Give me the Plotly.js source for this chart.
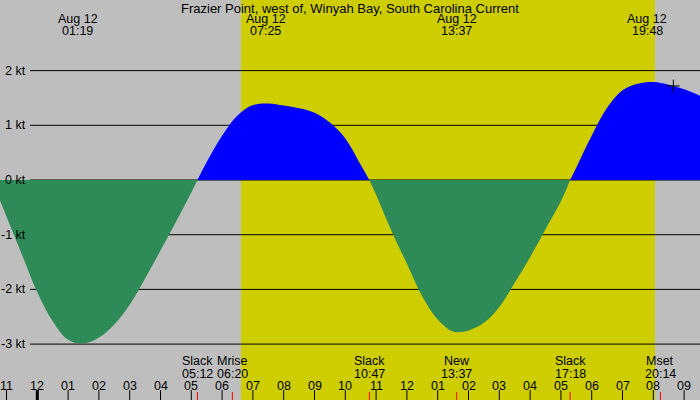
<!DOCTYPE html>
<html>
<head>
<meta charset="utf-8">
<script src="https://cdn.plot.ly/plotly-3.0.1.min.js"></script>
<style>
  html, body { margin: 0; padding: 0; background: #bebebe; }
  #chart { width: 700px; height: 400px; }
</style>
</head>
<body>
<div id="chart"></div>
<script>
// time in hours after midnight Aug 12 (negative = evening of Aug 11), current in knots
var hours = [-1.48, -1.0, -0.5, 0.0, 0.5, 1.0, 1.5, 2.0, 2.5, 3.0, 3.5, 4.0, 4.5, 5.0, 5.2,
  5.5, 6.0, 6.5, 7.0, 7.5, 8.0, 8.5, 9.0, 9.5, 10.0, 10.5, 10.78,
  11.0, 11.5, 12.0, 12.5, 13.0, 13.5, 14.0, 14.5, 15.0, 15.5, 16.0, 16.5, 17.0, 17.3,
  17.5, 18.0, 18.5, 19.0, 19.5, 20.0, 20.5, 21.0, 21.52];
var knots = [0, -0.67, -1.36, -2.05, -2.58, -2.92, -2.99, -2.88, -2.64, -2.28, -1.80, -1.29, -0.77, -0.23, 0,
  0.33, 0.81, 1.18, 1.37, 1.40, 1.36, 1.31, 1.23, 1.05, 0.76, 0.28, 0,
  -0.27, -0.93, -1.53, -2.13, -2.55, -2.77, -2.75, -2.61, -2.32, -1.88, -1.41, -0.90, -0.39, 0,
  0.23, 0.81, 1.32, 1.64, 1.76, 1.79, 1.74, 1.66, 1.54];

// max flood / max ebb labels along the top
var peakTimes = [1.317, 7.417, 13.617, 19.8];
var peakLabels = ['01:19', '07:25', '13:37', '19:48'];
var peakDate = 'Aug 12';

// slack, moon events along the bottom
var eventTimes = [-1.5, 5.2, 6.333, 10.783, 13.617, 17.3, 20.233];
var eventNames = ['Slack', 'Slack', 'Mrise', 'Slack', 'New', 'Slack', 'Mset'];
var eventLabels = ['22:30', '05:12', '06:20', '10:47', '13:37', '17:18', '20:14'];

var sunrise = 6.614, sunset = 20.054;
var nowTime = 20.65, nowKnots = 1.72;

var hourTicks = [-1, 0, 1, 2, 3, 4, 5, 6, 7, 8, 9, 10, 11, 12, 13, 14, 15, 16, 17, 18, 19, 20, 21];
var hourLabels = ['11', '12', '01', '02', '03', '04', '05', '06', '07', '08', '09', '10',
  '11', '12', '01', '02', '03', '04', '05', '06', '07', '08', '09'];
var ktTicks = [2, 1, 0, -1, -2, -3];

var W = 700, H = 400;

// split the curve into flood / ebb phases at each slack
var phases = [];
var cur = {x: [], y: []};
for (var i = 0; i < hours.length; i++) {
  cur.x.push(hours[i]); cur.y.push(knots[i]);
  if (knots[i] === 0 && cur.x.length > 1) {
    phases.push(cur);
    cur = {x: [hours[i]], y: [0]};
  }
}
if (cur.x.length > 1) phases.push(cur);

var data = phases.map(function (p) {
  var sum = p.y.reduce(function (a, b) { return a + b; }, 0);
  var col = sum > 0 ? '#0000ff' : '#2e8b57';
  return {
    type: 'scatter', mode: 'lines', x: p.x, y: p.y,
    line: {width: 0, shape: 'spline', smoothing: 1, color: col},
    fill: 'tozeroy', fillcolor: col, hoverinfo: 'skip'
  };
});
data.push({
  type: 'scatter', mode: 'markers', x: [nowTime], y: [nowKnots],
  marker: {symbol: 'cross-thin', size: 9, line: {width: 1, color: '#000'}},
  hoverinfo: 'skip'
});

var shapes = [{
  type: 'rect', xref: 'x', yref: 'paper', x0: sunrise, x1: sunset, y0: 0, y1: 1,
  fillcolor: '#cdcd00', line: {width: 0}, layer: 'below'
}];
ktTicks.forEach(function (v) {
  shapes.push({type: 'line', xref: 'paper', yref: 'y', x0: 30 / W, x1: 1, y0: v, y1: v,
    line: {color: '#000', width: 1}, layer: 'between'});
});
hourTicks.forEach(function (h) {
  shapes.push({type: 'line', xref: 'x', yref: 'paper', x0: h, x1: h, y0: 0, y1: 10 / H,
    line: {color: '#000', width: h === 0 ? 3 : 1}, layer: 'above'});
});
eventTimes.forEach(function (h) {
  shapes.push({type: 'line', xref: 'x', yref: 'paper', x0: h, x1: h, y0: 0, y1: 8 / H,
    line: {color: '#ff0000', width: 1}, layer: 'above'});
});

var annotations = [{
  text: 'Frazier Point, west of, Winyah Bay, South Carolina Current',
  xref: 'paper', yref: 'paper', x: 0.5, y: 1 - 8 / H, xanchor: 'center', yanchor: 'middle',
  showarrow: false, font: {size: 13}
}];
function label(text, xv, ypx) {
  annotations.push({text: text, xref: 'x', yref: 'paper', x: xv, y: 1 - ypx / H,
    xanchor: 'center', yanchor: 'middle', showarrow: false});
}
peakTimes.forEach(function (h, i) {
  label(peakDate, h, 19.5);
  label(peakLabels[i], h, 31.5);
});
eventTimes.forEach(function (h, i) {
  label(eventNames[i], h, 361);
  label(eventLabels[i], h, 373.5);
});
hourTicks.forEach(function (h, i) {
  label(hourLabels[i], h, 385.5);
});
ktTicks.forEach(function (v) {
  annotations.push({text: v + ' kt', xref: 'paper', yref: 'y', x: 28 / W, y: v,
    xanchor: 'right', yanchor: 'middle', showarrow: false});
});

var layout = {
  width: W, height: H,
  margin: {l: 0, r: 0, t: 0, b: 0},
  paper_bgcolor: '#bebebe', plot_bgcolor: '#bebebe',
  showlegend: false,
  font: {family: 'Liberation Sans, Arial, sans-serif', size: 12.5, color: '#000'},
  xaxis: {range: [-1.211, 21.516], showgrid: false, zeroline: false, showticklabels: false,
    ticks: '', showline: false, fixedrange: true},
  yaxis: {range: [-4.022, 3.291], showgrid: false, zeroline: false, showticklabels: false,
    ticks: '', showline: false, fixedrange: true},
  shapes: shapes,
  annotations: annotations
};

Plotly.newPlot('chart', data, layout, {displayModeBar: false, staticPlot: true});
</script>
</body>
</html>
